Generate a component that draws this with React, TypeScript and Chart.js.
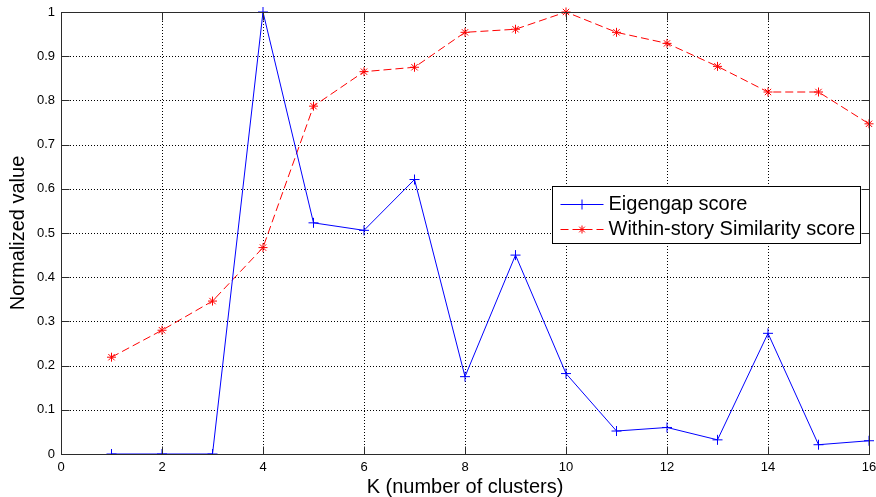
import React, { useEffect, useRef } from 'react';
import { Chart, registerables } from 'chart.js';

Chart.register(...registerables);

// ---------- data ----------
const kValues = [1, 2, 3, 4, 5, 6, 7, 8, 9, 10, 11, 12, 13, 14, 15, 16];
const eigengapScores = [0, 0, 0, 1.0, 0.523, 0.506, 0.621, 0.175, 0.45, 0.182, 0.052, 0.06, 0.032, 0.273, 0.021, 0.03];
const similarityScores = [0.219, 0.28, 0.346, 0.467, 0.787, 0.865, 0.875, 0.954, 0.961, 1.0, 0.954, 0.929, 0.877, 0.819, 0.819, 0.747];
const seriesNames = ['Eigengap score', 'Within-story Similarity score'];
const xTickValues = [0, 2, 4, 6, 8, 10, 12, 14, 16];
const xTickLabels = ['0', '2', '4', '6', '8', '10', '12', '14', '16'];
const yTickValues = [0, 0.1, 0.2, 0.3, 0.4, 0.5, 0.6, 0.7, 0.8, 0.9, 1];
const yTickLabels = ['0', '0.1', '0.2', '0.3', '0.4', '0.5', '0.6', '0.7', '0.8', '0.9', '1'];
const xAxisTitle = 'K (number of clusters)';
const yAxisTitle = 'Normalized value';

// ---------- style ----------
const FONT = "'Liberation Sans', Arial, Helvetica, sans-serif";
const BLUE = '#0000ff';
const RED = '#ff0000';
const AXIS_COLOR = '#2b2b2b';
const TICK_LEN = 8;

function drawCross(ctx: CanvasRenderingContext2D, x: number, y: number, r: number) {
  ctx.beginPath();
  ctx.moveTo(x - r, y);
  ctx.lineTo(x + r, y);
  ctx.moveTo(x, y - r);
  ctx.lineTo(x, y + r);
  ctx.stroke();
}
function drawStar(ctx: CanvasRenderingContext2D, x: number, y: number, r: number) {
  drawCross(ctx, x, y, r);
  const d = r * 0.7071;
  ctx.beginPath();
  ctx.moveTo(x - d, y - d);
  ctx.lineTo(x + d, y + d);
  ctx.moveTo(x - d, y + d);
  ctx.lineTo(x + d, y - d);
  ctx.stroke();
}

const gridPlugin = {
  id: 'matlabGrid',
  beforeDatasetsDraw(chart: any) {
    const { ctx, chartArea } = chart;
    const xs = chart.scales.x;
    const ys = chart.scales.y;
    ctx.save();
    ctx.strokeStyle = '#000000';
    ctx.lineWidth = 1;
    ctx.setLineDash([1, 2]);
    xTickValues.forEach((v) => {
      const px = Math.round(xs.getPixelForValue(v)) + 0.5;
      ctx.beginPath();
      ctx.moveTo(px, chartArea.bottom);
      ctx.lineTo(px, chartArea.top);
      ctx.stroke();
    });
    yTickValues.forEach((v) => {
      const py = Math.round(ys.getPixelForValue(v)) + 0.5;
      ctx.beginPath();
      ctx.moveTo(chartArea.left, py);
      ctx.lineTo(chartArea.right, py);
      ctx.stroke();
    });
    ctx.restore();
  },
};

const framePlugin = {
  id: 'matlabFrame',
  afterDatasetsDraw(chart: any) {
    const { ctx, chartArea } = chart;
    const xs = chart.scales.x;
    const ys = chart.scales.y;
    const l = Math.round(chartArea.left) + 0.5;
    const r = Math.round(chartArea.right) + 0.5;
    const t = Math.round(chartArea.top) + 0.5;
    const b = Math.round(chartArea.bottom) + 0.5;
    ctx.save();
    ctx.strokeStyle = AXIS_COLOR;
    ctx.lineWidth = 1;
    ctx.setLineDash([]);
    ctx.strokeRect(l, t, r - l, b - t);
    ctx.beginPath();
    xTickValues.forEach((v) => {
      const px = Math.round(xs.getPixelForValue(v)) + 0.5;
      ctx.moveTo(px, b);
      ctx.lineTo(px, b - TICK_LEN);
      ctx.moveTo(px, t);
      ctx.lineTo(px, t + TICK_LEN);
    });
    yTickValues.forEach((v) => {
      const py = Math.round(ys.getPixelForValue(v)) + 0.5;
      ctx.moveTo(l, py);
      ctx.lineTo(l + TICK_LEN, py);
      ctx.moveTo(r, py);
      ctx.lineTo(r - TICK_LEN, py);
    });
    ctx.stroke();
    ctx.restore();
  },
};

const legendPlugin = {
  id: 'matlabLegend',
  afterDraw(chart: any) {
    const { ctx, chartArea } = chart;
    const boxRight = Math.round(chartArea.right) - 9 + 0.5;
    const boxLeft = boxRight - 308;
    const boxTop = 186.5;
    const boxH = 57;
    ctx.save();
    ctx.fillStyle = '#ffffff';
    ctx.fillRect(boxLeft, boxTop, boxRight - boxLeft, boxH);
    ctx.strokeStyle = '#000000';
    ctx.lineWidth = 1;
    ctx.strokeRect(boxLeft, boxTop, boxRight - boxLeft, boxH);

    const rows = [
      { name: seriesNames[0], color: BLUE, dash: [] as number[], marker: 'cross', y: 204.5 },
      { name: seriesNames[1], color: RED, dash: [8, 4], marker: 'star', y: 229.5 },
    ];
    const lx0 = boxLeft + 8;
    const lx1 = boxLeft + 51;
    const mx = (lx0 + lx1) / 2;
    rows.forEach((row) => {
      ctx.strokeStyle = row.color;
      ctx.lineWidth = 1;
      ctx.setLineDash(row.dash);
      ctx.beginPath();
      ctx.moveTo(lx0, row.y);
      ctx.lineTo(lx1, row.y);
      ctx.stroke();
      ctx.setLineDash([]);
      if (row.marker === 'cross') drawCross(ctx, mx, row.y, 5);
      else drawStar(ctx, mx, row.y, 4);
      ctx.fillStyle = '#000000';
      ctx.font = `20px ${FONT}`;
      ctx.textAlign = 'left';
      ctx.textBaseline = 'middle';
      ctx.fillText(row.name, boxLeft + 56, row.y);
    });
    ctx.restore();
  },
};

export default function App() {
  const canvasRef = useRef<HTMLCanvasElement | null>(null);

  useEffect(() => {
    document.body.style.margin = '0';
    const canvas = canvasRef.current;
    if (!canvas) return;
    const chart = new Chart(canvas, {
      type: 'line',
      data: {
        datasets: [
          {
            label: seriesNames[0],
            data: kValues.map((k, i) => ({ x: k, y: eigengapScores[i] })),
            borderColor: BLUE,
            backgroundColor: BLUE,
            borderWidth: 1,
            pointStyle: 'cross',
            pointRadius: 5,
            pointBorderColor: BLUE,
            pointBorderWidth: 1,
            fill: false,
            tension: 0,
            clip: { left: 0, top: 8, right: 8, bottom: 0 },
          },
          {
            label: seriesNames[1],
            data: kValues.map((k, i) => ({ x: k, y: similarityScores[i] })),
            borderColor: RED,
            backgroundColor: RED,
            borderWidth: 1,
            borderDash: [8, 4],
            pointStyle: 'star',
            pointRadius: 4.5,
            pointBorderColor: RED,
            pointBorderWidth: 1,
            fill: false,
            tension: 0,
            clip: { left: 0, top: 8, right: 8, bottom: 0 },
          },
        ],
      },
      options: {
        responsive: false,
        animation: false,
        devicePixelRatio: 1,
        layout: { padding: { left: 0, top: 12, right: 7, bottom: 0 } },
        plugins: {
          legend: { display: false },
          tooltip: { enabled: false },
        },
        scales: {
          x: {
            type: 'linear',
            min: 0,
            max: 16,
            afterBuildTicks: (scale: any) => {
              scale.ticks = xTickValues.map((v) => ({ value: v }));
            },
            ticks: {
              autoSkip: false,
              maxRotation: 0,
              padding: 6,
              color: '#000000',
              font: { family: FONT, size: 13 },
              callback: (value: any) => {
                const i = xTickValues.indexOf(Number(value));
                return i >= 0 ? xTickLabels[i] : '';
              },
            },
            grid: { display: false, drawTicks: false },
            border: { display: false },
            title: {
              display: true,
              text: xAxisTitle,
              color: '#000000',
              font: { family: FONT, size: 20, lineHeight: 1 },
              padding: { top: 0, bottom: 0 },
            },
            afterFit: (scale: any) => {
              scale.height = 43;
              scale.paddingLeft = 0;
              scale.paddingRight = 0;
            },
          },
          y: {
            type: 'linear',
            min: 0,
            max: 1,
            afterBuildTicks: (scale: any) => {
              scale.ticks = yTickValues.map((v) => ({ value: v }));
            },
            ticks: {
              autoSkip: false,
              padding: 6,
              color: '#000000',
              font: { family: FONT, size: 13 },
              callback: (value: any) => {
                const i = Math.round(Number(value) * 10);
                return yTickLabels[i] ?? '';
              },
            },
            grid: { display: false, drawTicks: false },
            border: { display: false },
            title: {
              display: true,
              text: yAxisTitle,
              color: '#000000',
              font: { family: FONT, size: 20, lineHeight: 1.2 },
              padding: { top: 6, bottom: 0 },
            },
            afterFit: (scale: any) => {
              scale.width = 61;
              scale.paddingTop = 0;
              scale.paddingBottom = 0;
            },
          },
        },
      } as any,
      plugins: [gridPlugin, framePlugin, legendPlugin],
    });
    return () => chart.destroy();
  }, []);

  return (
    <div style={{ position: 'absolute', left: 0, top: 0, width: 876, height: 497, background: '#ffffff' }}>
      <canvas ref={canvasRef} width={876} height={497} style={{ display: 'block' }} />
    </div>
  );
}
